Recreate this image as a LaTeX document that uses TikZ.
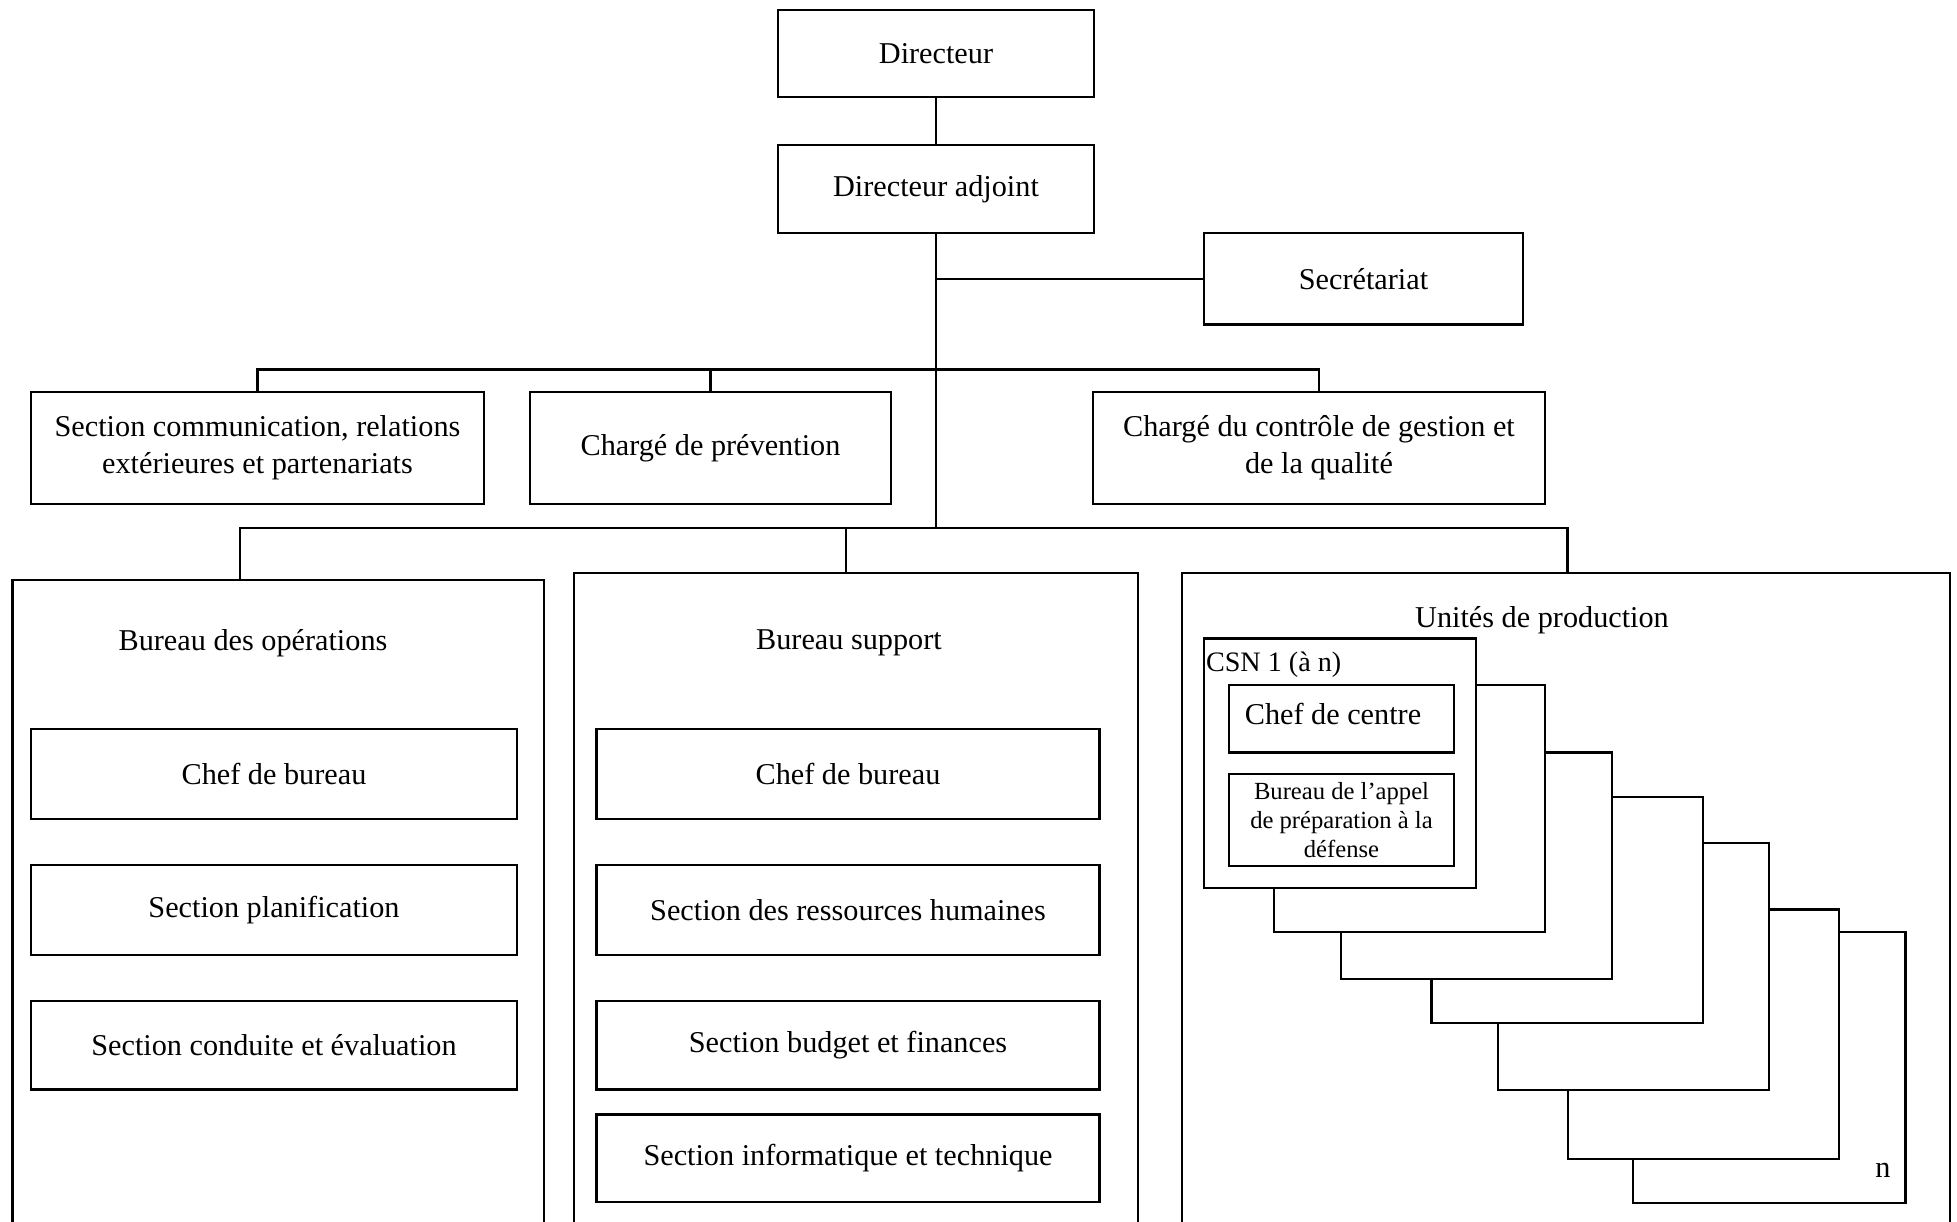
\documentclass[tikz,border=0pt]{standalone}
\usepackage{fontspec}
\setmainfont{Liberation Serif}
\usetikzlibrary{fit}
\begin{document}
\begin{tikzpicture}[x=0.01cm,y=-0.01cm, line width=0.6pt,
  every node/.style={font=\fontsize{8.6}{10.6}\selectfont},
  box/.style={draw, fill=white, inner sep=0pt},
  lbl/.style={inner sep=0pt, align=center},
  small/.style={inner sep=0pt, align=center, font=\fontsize{7}{8.3}\selectfont}]
\fill[white] (0,0) rectangle (1957,1222);
\useasboundingbox (0,0) rectangle (1957,1222);

% top level
\node[box, fit={(778,10) (1094,97)}] (dir) {};
\node[lbl] (dirT) at (dir.center) {Directeur};
\node[box, fit={(778,145) (1094,233)}] (adj) {};
\node[lbl] (adjT) at (adj.center) {Directeur adjoint};
\node[box, fit={(1204,233) (1523,324.5)}] (sec) {};
\node[lbl] (secT) at (sec.center) {Secrétariat};

\node[box, fit={(31,392) (484,504)}] (comm) {};
\node[lbl] (commT) at (comm.center) {Section communication, relations\\extérieures et partenariats};
\node[box, fit={(530,392) (891,504)}] (prev) {};
\node[lbl] (prevT) at (prev.center) {Chargé de prévention};
\node[box, fit={(1093,392) (1545,504)}] (ctrl) {};
\node[lbl] (ctrlT) at (ctrl.center) {Chargé du contrôle de gestion et\\de la qualité};

% junctions
\coordinate (b1) at (936,369.5);
\coordinate (j2) at (936,528);
\coordinate (opsTop) at (240,580);
\coordinate (supTop) at (846,573);
\coordinate (uniTop) at (1567.5,573);

\draw (dir.south) -- (adj.north);
\draw (adj.south) -- (j2);
\draw (adj.south |- sec.west) -- (sec.west);
\draw (comm.north) |- (b1) -| (ctrl.north);
\draw (prev.north) -- (prev.north |- b1);
\draw (opsTop) |- (j2) -| (uniTop);
\draw (supTop) -- (supTop |- j2);

% big open boxes
\draw (12.5,1222) |- (544,580) -- (544,1222);
\draw (574,1222) |- (1138,573) -- (1138,1222);
\draw (1182,1222) |- (1950,573) -- (1950,1222);

\node[lbl] (opsT) at (253,643) {Bureau des opérations};
\node[lbl] (supT) at (849,643) {Bureau support};
\node[lbl] (uniT) at (1542,620) {Unités de production};

% Bureau des operations
\node[box, fit={(31,729) (517,819)}] (o1) {};
\node[lbl] (o1T) at (o1.center) {Chef de bureau};
\node[box, fit={(31,865) (517,955)}] (o2) {};
\node[lbl] (o2T) at (o2.center) {Section planification};
\node[box, fit={(31,1001) (517,1089.5)}] (o3) {};
\node[lbl] (o3T) at (o3.center) {Section conduite et évaluation};

% Bureau support
\node[box, fit={(596.5,729) (1099.5,819)}] (s1) {};
\node[lbl] (s1T) at (s1.center) {Chef de bureau};
\node[box, fit={(596.5,865) (1099.5,955)}] (s2) {};
\node[lbl] (s2T) at (s2.center) {Section des ressources humaines};
\node[box, fit={(596.5,1001) (1099.5,1089.5)}] (s3) {};
\node[lbl] (s3T) at (s3.center) {Section budget et finances};
\node[box, fit={(596.5,1114.5) (1099.5,1202)}] (s4) {};
\node[lbl] (s4T) at (s4.center) {Section informatique et technique};

% stacked production units
\node[box, fit={(1633,932) (1905.5,1203)}] (u7) {};
\node[box, fit={(1567.6,909.5) (1838.7,1158.6)}] (u6) {};
\node[box, fit={(1498,843) (1769,1090)}] (u5) {};
\node[box, fit={(1431.5,797) (1703,1023)}] (u4) {};
\node[box, fit={(1341,752.5) (1612,979)}] (u3) {};
\node[box, fit={(1274,685) (1545,932)}] (u2) {};
\node[box, fit={(1204,638.5) (1476,887.6)}] (csn) {};
\node[box, fit={(1229,685) (1454,752.5)}] (chef) {};
\node[box, fit={(1229,774) (1454,865.6)}] (appel) {};

\node[lbl, anchor=west, font=\fontsize{8}{9.6}\selectfont] (csnT) at (1205,665) {CSN 1 (à n)};
\node[lbl] (chefT) at (1333,714) {Chef de centre};
\node[small] (appelT) at (appel.center) {Bureau de l’appel\\de préparation à la\\défense};
\node[lbl] (nT) at (1883,1170) {n};
\end{tikzpicture}
\end{document}
